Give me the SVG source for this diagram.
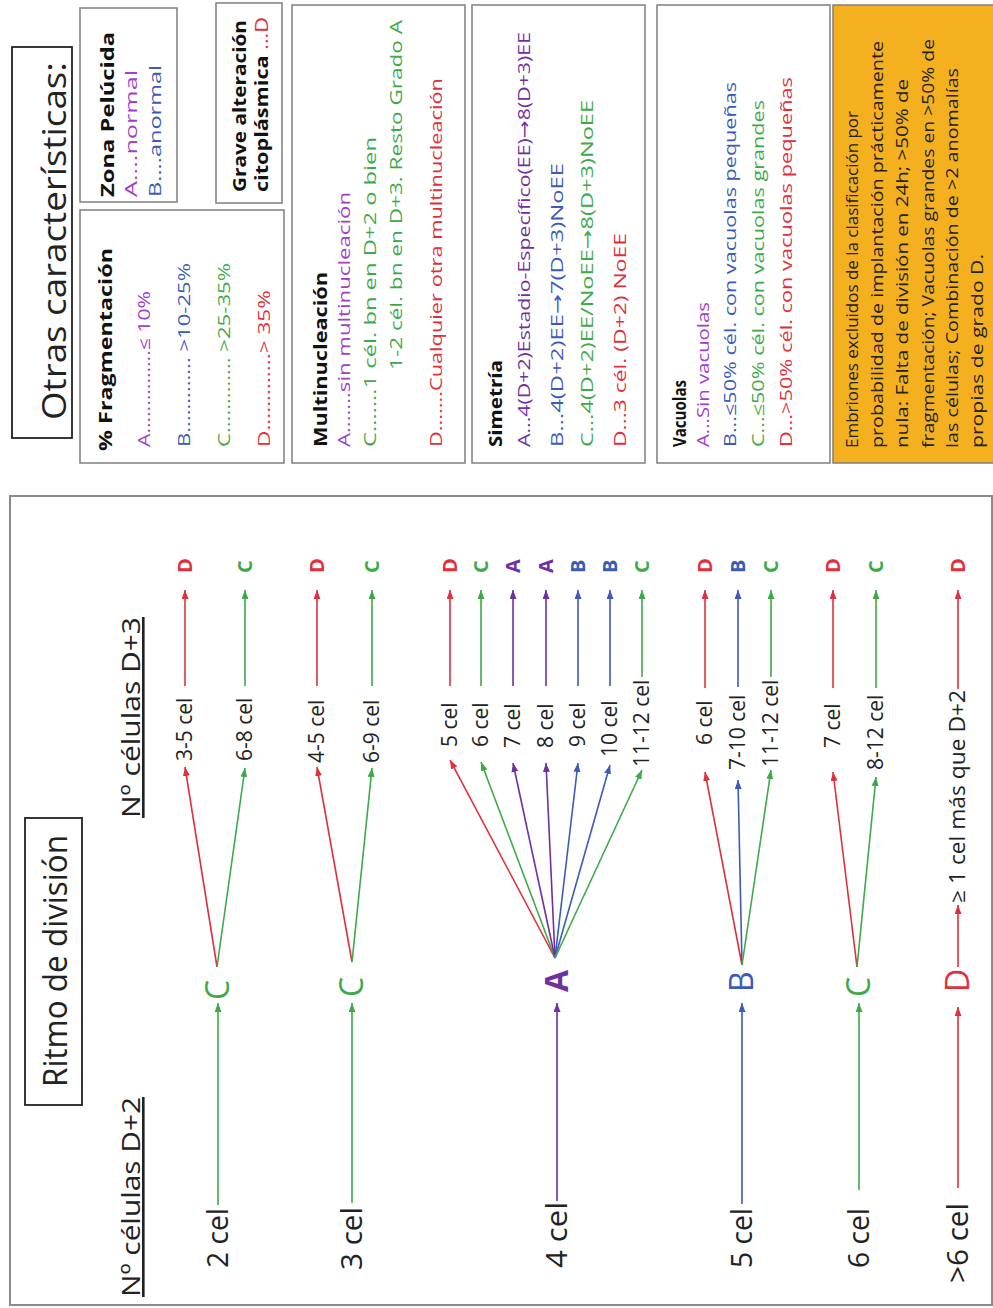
<svg xmlns="http://www.w3.org/2000/svg" width="993" height="1308" viewBox="0 0 993 1308">
<style>
text{font-family:"Open Sans","Liberation Sans",sans-serif;fill:#222}
.big{font-size:30px}
.lbl{font-size:21px}
.mid{font-size:32px}
.fin{font-size:20px;font-weight:bold}
.hdr{font-size:18px;font-weight:bold;fill:#111}
.itm{font-size:16.5px}
.note{font-size:16px;fill:#222}
.arw{font-family:"DejaVu Sans",sans-serif}
.box{fill:#fff;stroke:#7f7f7f;stroke-width:1.5}
.tbox{fill:none;stroke:#222;stroke-width:1.8}
.r{fill:#E0303C}.g{fill:#3FA94A}.b{fill:#3A5BB8}.p{fill:#70309F}.pl{fill:#A040C8}
.ln{fill:none;stroke-width:1.6}
.sr{stroke:#E0303C}.sg{stroke:#3FA94A}.sb{stroke:#3A5BB8}.sp{stroke:#70309F}
</style>
<defs>
<marker id="mr" markerUnits="userSpaceOnUse" markerWidth="10" markerHeight="8" refX="9" refY="3.5" orient="auto"><path d="M0,0 L9,3.5 L0,7 z" fill="#E0303C"/></marker>
<marker id="mg" markerUnits="userSpaceOnUse" markerWidth="10" markerHeight="8" refX="9" refY="3.5" orient="auto"><path d="M0,0 L9,3.5 L0,7 z" fill="#3FA94A"/></marker>
<marker id="mb" markerUnits="userSpaceOnUse" markerWidth="10" markerHeight="8" refX="9" refY="3.5" orient="auto"><path d="M0,0 L9,3.5 L0,7 z" fill="#3A5BB8"/></marker>
<marker id="mp" markerUnits="userSpaceOnUse" markerWidth="10" markerHeight="8" refX="9" refY="3.5" orient="auto"><path d="M0,0 L9,3.5 L0,7 z" fill="#70309F"/></marker>
</defs>
<rect width="993" height="1308" fill="#fff"/>
<g transform="translate(0,1308) rotate(-90)">

<g id="panel-ritmo">
<rect x="3" y="10" width="809" height="982" fill="none" stroke="#8a8a8a" stroke-width="2"/>
<rect class="tbox" x="203" y="25" width="287" height="57"/>
<text x="221" y="67" font-size="33" textLength="252" lengthAdjust="spacingAndGlyphs">Ritmo de división</text>
<text x="11" y="140" font-size="26" text-decoration="underline" textLength="200" lengthAdjust="spacingAndGlyphs">Nº células D+2</text>
<text x="490" y="140" font-size="26" text-decoration="underline" textLength="201" lengthAdjust="spacingAndGlyphs">Nº células D+3</text>
</g>

<g id="connectors">
<line class="ln sg" x1="103" y1="218" x2="305" y2="218" marker-end="url(#mg)"/>
<line class="ln sr" x1="341" y1="217" x2="541" y2="185" marker-end="url(#mr)"/>
<line class="ln sg" x1="341" y1="217" x2="540" y2="245" marker-end="url(#mg)"/>
<line class="ln sr" x1="622" y1="185" x2="718" y2="185" marker-end="url(#mr)"/>
<line class="ln sg" x1="622" y1="245" x2="718" y2="245" marker-end="url(#mg)"/>
<line class="ln sg" x1="105" y1="352" x2="305" y2="352" marker-end="url(#mg)"/>
<line class="ln sr" x1="346" y1="352" x2="541" y2="317" marker-end="url(#mr)"/>
<line class="ln sg" x1="346" y1="352" x2="540" y2="372" marker-end="url(#mg)"/>
<line class="ln sr" x1="622" y1="317" x2="718" y2="317" marker-end="url(#mr)"/>
<line class="ln sg" x1="622" y1="372" x2="718" y2="372" marker-end="url(#mg)"/>
<line class="ln sp" x1="107" y1="557" x2="305" y2="557" marker-end="url(#mp)" stroke-width="2"/>
<line class="ln sr" x1="350" y1="555" x2="548" y2="450" marker-end="url(#mr)"/>
<line class="ln sg" x1="350" y1="555" x2="546" y2="481" marker-end="url(#mg)"/>
<line class="ln sp" x1="350" y1="555" x2="545" y2="513" marker-end="url(#mp)" stroke-width="2"/>
<line class="ln sp" x1="350" y1="555" x2="545" y2="546" marker-end="url(#mp)" stroke-width="2"/>
<line class="ln sb" x1="350" y1="555" x2="545" y2="578" marker-end="url(#mb)"/>
<line class="ln sb" x1="350" y1="555" x2="543" y2="610" marker-end="url(#mb)"/>
<line class="ln sg" x1="350" y1="555" x2="538" y2="642" marker-end="url(#mg)"/>
<line class="ln sr" x1="622" y1="450" x2="718" y2="450" marker-end="url(#mr)"/>
<line class="ln sg" x1="622" y1="481" x2="718" y2="481" marker-end="url(#mg)"/>
<line class="ln sp" x1="622" y1="513" x2="718" y2="513" marker-end="url(#mp)" stroke-width="2"/>
<line class="ln sp" x1="622" y1="546" x2="718" y2="546" marker-end="url(#mp)" stroke-width="2"/>
<line class="ln sb" x1="622" y1="578" x2="718" y2="578" marker-end="url(#mb)"/>
<line class="ln sb" x1="622" y1="610" x2="718" y2="610" marker-end="url(#mb)"/>
<line class="ln sg" x1="631" y1="642" x2="718" y2="642" marker-end="url(#mg)"/>
<line class="ln sb" x1="104" y1="742" x2="305" y2="742" marker-end="url(#mb)"/>
<line class="ln sr" x1="343" y1="742" x2="536" y2="705" marker-end="url(#mr)"/>
<line class="ln sb" x1="343" y1="742" x2="528" y2="738" marker-end="url(#mb)"/>
<line class="ln sg" x1="343" y1="742" x2="538" y2="771" marker-end="url(#mg)"/>
<line class="ln sr" x1="620" y1="705" x2="718" y2="705" marker-end="url(#mr)"/>
<line class="ln sb" x1="621" y1="738" x2="718" y2="738" marker-end="url(#mb)"/>
<line class="ln sg" x1="631" y1="771" x2="718" y2="771" marker-end="url(#mg)"/>
<line class="ln sg" x1="118" y1="859" x2="305" y2="859" marker-end="url(#mg)"/>
<line class="ln sr" x1="341" y1="857" x2="536" y2="833" marker-end="url(#mr)"/>
<line class="ln sg" x1="341" y1="857" x2="531" y2="876" marker-end="url(#mg)"/>
<line class="ln sr" x1="620" y1="833" x2="718" y2="833" marker-end="url(#mr)"/>
<line class="ln sg" x1="620" y1="876" x2="718" y2="876" marker-end="url(#mg)"/>
<line class="ln sr" x1="120" y1="958" x2="301" y2="958" marker-end="url(#mr)"/>
<line class="ln sr" x1="341" y1="958" x2="403" y2="958" marker-end="url(#mr)"/>
<line class="ln sr" x1="619" y1="958" x2="718" y2="958" marker-end="url(#mr)"/>
</g>

<g id="row-2cel">
<text class="big" x="40" y="228" textLength="60" lengthAdjust="spacingAndGlyphs">2 cel</text>
<text class="mid g" x="308" y="229">C</text>
<text class="lbl" x="547" y="192">3-5 cel</text>
<text class="lbl" x="547" y="252">6-8 cel</text>
<text class="fin r" x="735" y="192">D</text>
<text class="fin g" x="735" y="252">C</text>
</g>

<g id="row-3cel">
<text class="big" x="38" y="362" textLength="63" lengthAdjust="spacingAndGlyphs">3 cel</text>
<text class="mid g" x="311" y="363">C</text>
<text class="lbl" x="545" y="324">4-5 cel</text>
<text class="lbl" x="545" y="379">6-9 cel</text>
<text class="fin r" x="735" y="324">D</text>
<text class="fin g" x="735" y="379">C</text>
</g>

<g id="row-4cel">
<text class="big" x="40" y="567" textLength="66" lengthAdjust="spacingAndGlyphs">4 cel</text>
<text class="mid p" x="316" y="568" font-weight="bold">A</text>
<text class="lbl" x="561" y="457">5 cel</text>
<text class="lbl" x="561" y="488">6 cel</text>
<text class="lbl" x="560" y="520">7 cel</text>
<text class="lbl" x="560" y="553">8 cel</text>
<text class="lbl" x="561" y="585">9 cel</text>
<text class="lbl" x="551" y="617">10 cel</text>
<text class="lbl" x="541" y="649">11-12 cel</text>
<text class="fin r" x="735" y="457">D</text>
<text class="fin g" x="735" y="488">C</text>
<text class="fin p" x="735" y="520">A</text>
<text class="fin p" x="735" y="553">A</text>
<text class="fin b" x="735" y="585">B</text>
<text class="fin b" x="735" y="617">B</text>
<text class="fin g" x="735" y="649">C</text>
</g>

<g id="row-5cel">
<text class="big" x="40" y="752" textLength="60" lengthAdjust="spacingAndGlyphs">5 cel</text>
<text class="mid b" x="316" y="753">B</text>
<text class="lbl" x="563" y="712">6 cel</text>
<text class="lbl" x="538" y="745">7-10 cel</text>
<text class="lbl" x="541" y="778">11-12 cel</text>
<text class="fin r" x="735" y="712">D</text>
<text class="fin b" x="735" y="745">B</text>
<text class="fin g" x="735" y="778">C</text>
</g>

<g id="row-6cel">
<text class="big" x="40" y="869" textLength="60" lengthAdjust="spacingAndGlyphs">6 cel</text>
<text class="mid g" x="311" y="870">C</text>
<text class="lbl" x="560" y="840">7 cel</text>
<text class="lbl" x="538" y="883">8-12 cel</text>
<text class="fin r" x="735" y="840">D</text>
<text class="fin g" x="735" y="883">C</text>
</g>

<g id="row-mas6cel">
<text class="big" x="25" y="968" textLength="80" lengthAdjust="spacingAndGlyphs">&gt;6 cel</text>
<text class="mid r" x="316" y="969">D</text>
<text class="lbl" x="405" y="965" textLength="213" lengthAdjust="spacingAndGlyphs">≥ 1 cel más que D+2</text>
<text class="fin r" x="735" y="965">D</text>
</g>

<g id="title-otras">
<rect class="tbox" x="870" y="12" width="391" height="60"/>
<text x="888" y="66" font-size="33" textLength="358" lengthAdjust="spacingAndGlyphs">Otras características:</text>
</g>

<g id="box-zona">
<rect class="box" x="1106" y="80" width="194" height="97"/>
<text class="hdr" x="1111" y="114" textLength="165" lengthAdjust="spacingAndGlyphs">Zona Pelúcida</text>
<text class="itm pl" x="1111" y="137" textLength="127" lengthAdjust="spacingAndGlyphs">A....normal</text>
<text class="itm b" x="1111" y="161" textLength="132" lengthAdjust="spacingAndGlyphs">B....anormal</text>
</g>

<g id="box-grave">
<rect class="box" x="1105" y="216" width="200" height="66"/>
<text class="hdr" x="1116" y="246" textLength="172" lengthAdjust="spacingAndGlyphs">Grave alteración</text>
<text class="hdr" x="1116" y="268" textLength="175" lengthAdjust="spacingAndGlyphs">citoplásmica <tspan class="r" font-weight="normal">...D</tspan></text>
</g>

<g id="box-fragmentacion">
<rect class="box" x="845" y="80" width="253" height="204"/>
<text class="hdr" x="857" y="112" textLength="203" lengthAdjust="spacingAndGlyphs">% Fragmentación</text>
<text class="itm pl" x="861" y="150" textLength="156" lengthAdjust="spacingAndGlyphs">A...............≤ 10%</text>
<text class="itm b" x="861" y="190" textLength="184" lengthAdjust="spacingAndGlyphs">B............. &gt;10-25%</text>
<text class="itm g" x="861" y="230" textLength="184" lengthAdjust="spacingAndGlyphs">C............. &gt;25-35%</text>
<text class="itm r" x="861" y="270" textLength="157" lengthAdjust="spacingAndGlyphs">D.............&gt; 35%</text>
</g>

<g id="box-multinucleacion">
<rect class="box" x="845" y="292" width="458" height="173"/>
<text class="hdr" x="861" y="327" textLength="175" lengthAdjust="spacingAndGlyphs">Multinucleación</text>
<text class="itm pl" x="861" y="350" textLength="255" lengthAdjust="spacingAndGlyphs">A.......sin multinucleación</text>
<text class="itm g" x="861" y="376" textLength="310" lengthAdjust="spacingAndGlyphs">C.......1 cél. bn en D+2  o bien</text>
<text class="itm g" x="938" y="402" textLength="350" lengthAdjust="spacingAndGlyphs">1-2 cél. bn en D+3. Resto Grado A</text>
<text class="itm r" x="861" y="442" textLength="369" lengthAdjust="spacingAndGlyphs">D.......Cualquier otra multinucleación</text>
</g>

<g id="box-simetria">
<rect class="box" x="845" y="472" width="458" height="173"/>
<text class="hdr" x="861" y="502" textLength="87" lengthAdjust="spacingAndGlyphs">Simetría</text>
<text class="itm p" x="861" y="530" textLength="415" lengthAdjust="spacingAndGlyphs">A...4(D+2)Estadio-Específico(EE)<tspan class="arw">→</tspan>8(D+3)EE</text>
<text class="itm b" x="861" y="563" textLength="284" lengthAdjust="spacingAndGlyphs">B...4(D+2)EE<tspan class="arw">→</tspan>7(D+3)NoEE</text>
<text class="itm g" x="861" y="593" textLength="347" lengthAdjust="spacingAndGlyphs">C...4(D+2)EE/NoEE<tspan class="arw">→</tspan>8(D+3)NoEE</text>
<text class="itm r" x="861" y="626" textLength="214" lengthAdjust="spacingAndGlyphs">D...3 cél. (D+2) NoEE</text>
</g>

<g id="box-vacuolas">
<rect class="box" x="845" y="657" width="458" height="173"/>
<text class="hdr" x="861" y="686" textLength="67" lengthAdjust="spacingAndGlyphs">Vacuolas</text>
<text class="itm pl" x="861" y="709" textLength="145" lengthAdjust="spacingAndGlyphs">A...Sin vacuolas</text>
<text class="itm b" x="861" y="736" textLength="365" lengthAdjust="spacingAndGlyphs">B...≤50% cél. con vacuolas pequeñas</text>
<text class="itm g" x="861" y="764" textLength="347" lengthAdjust="spacingAndGlyphs">C...≤50% cél. con vacuolas grandes</text>
<text class="itm r" x="861" y="792" textLength="370" lengthAdjust="spacingAndGlyphs">D...&gt;50% cél. con vacuolas pequeñas</text>
</g>

<g id="box-excluidos">
<rect x="845" y="833" width="458" height="165" fill="#F4B01E" stroke="#7f7f7f" stroke-width="1.5"/>
<text class="note" x="860" y="858" textLength="337" lengthAdjust="spacingAndGlyphs">Embriones excluidos de la clasificación por</text>
<text class="note" x="860" y="883" textLength="407" lengthAdjust="spacingAndGlyphs">probabilidad de implantación prácticamente</text>
<text class="note" x="860" y="908" textLength="369" lengthAdjust="spacingAndGlyphs">nula: Falta de división en 24h; &gt;50% de</text>
<text class="note" x="860" y="934" textLength="409" lengthAdjust="spacingAndGlyphs">fragmentación; Vacuolas grandes en &gt;50% de</text>
<text class="note" x="860" y="958" textLength="380" lengthAdjust="spacingAndGlyphs">las células; Combinación de &gt;2 anomalías</text>
<text class="note" x="860" y="983" textLength="194" lengthAdjust="spacingAndGlyphs">propias de grado D.</text>
</g>

</g>
</svg>
